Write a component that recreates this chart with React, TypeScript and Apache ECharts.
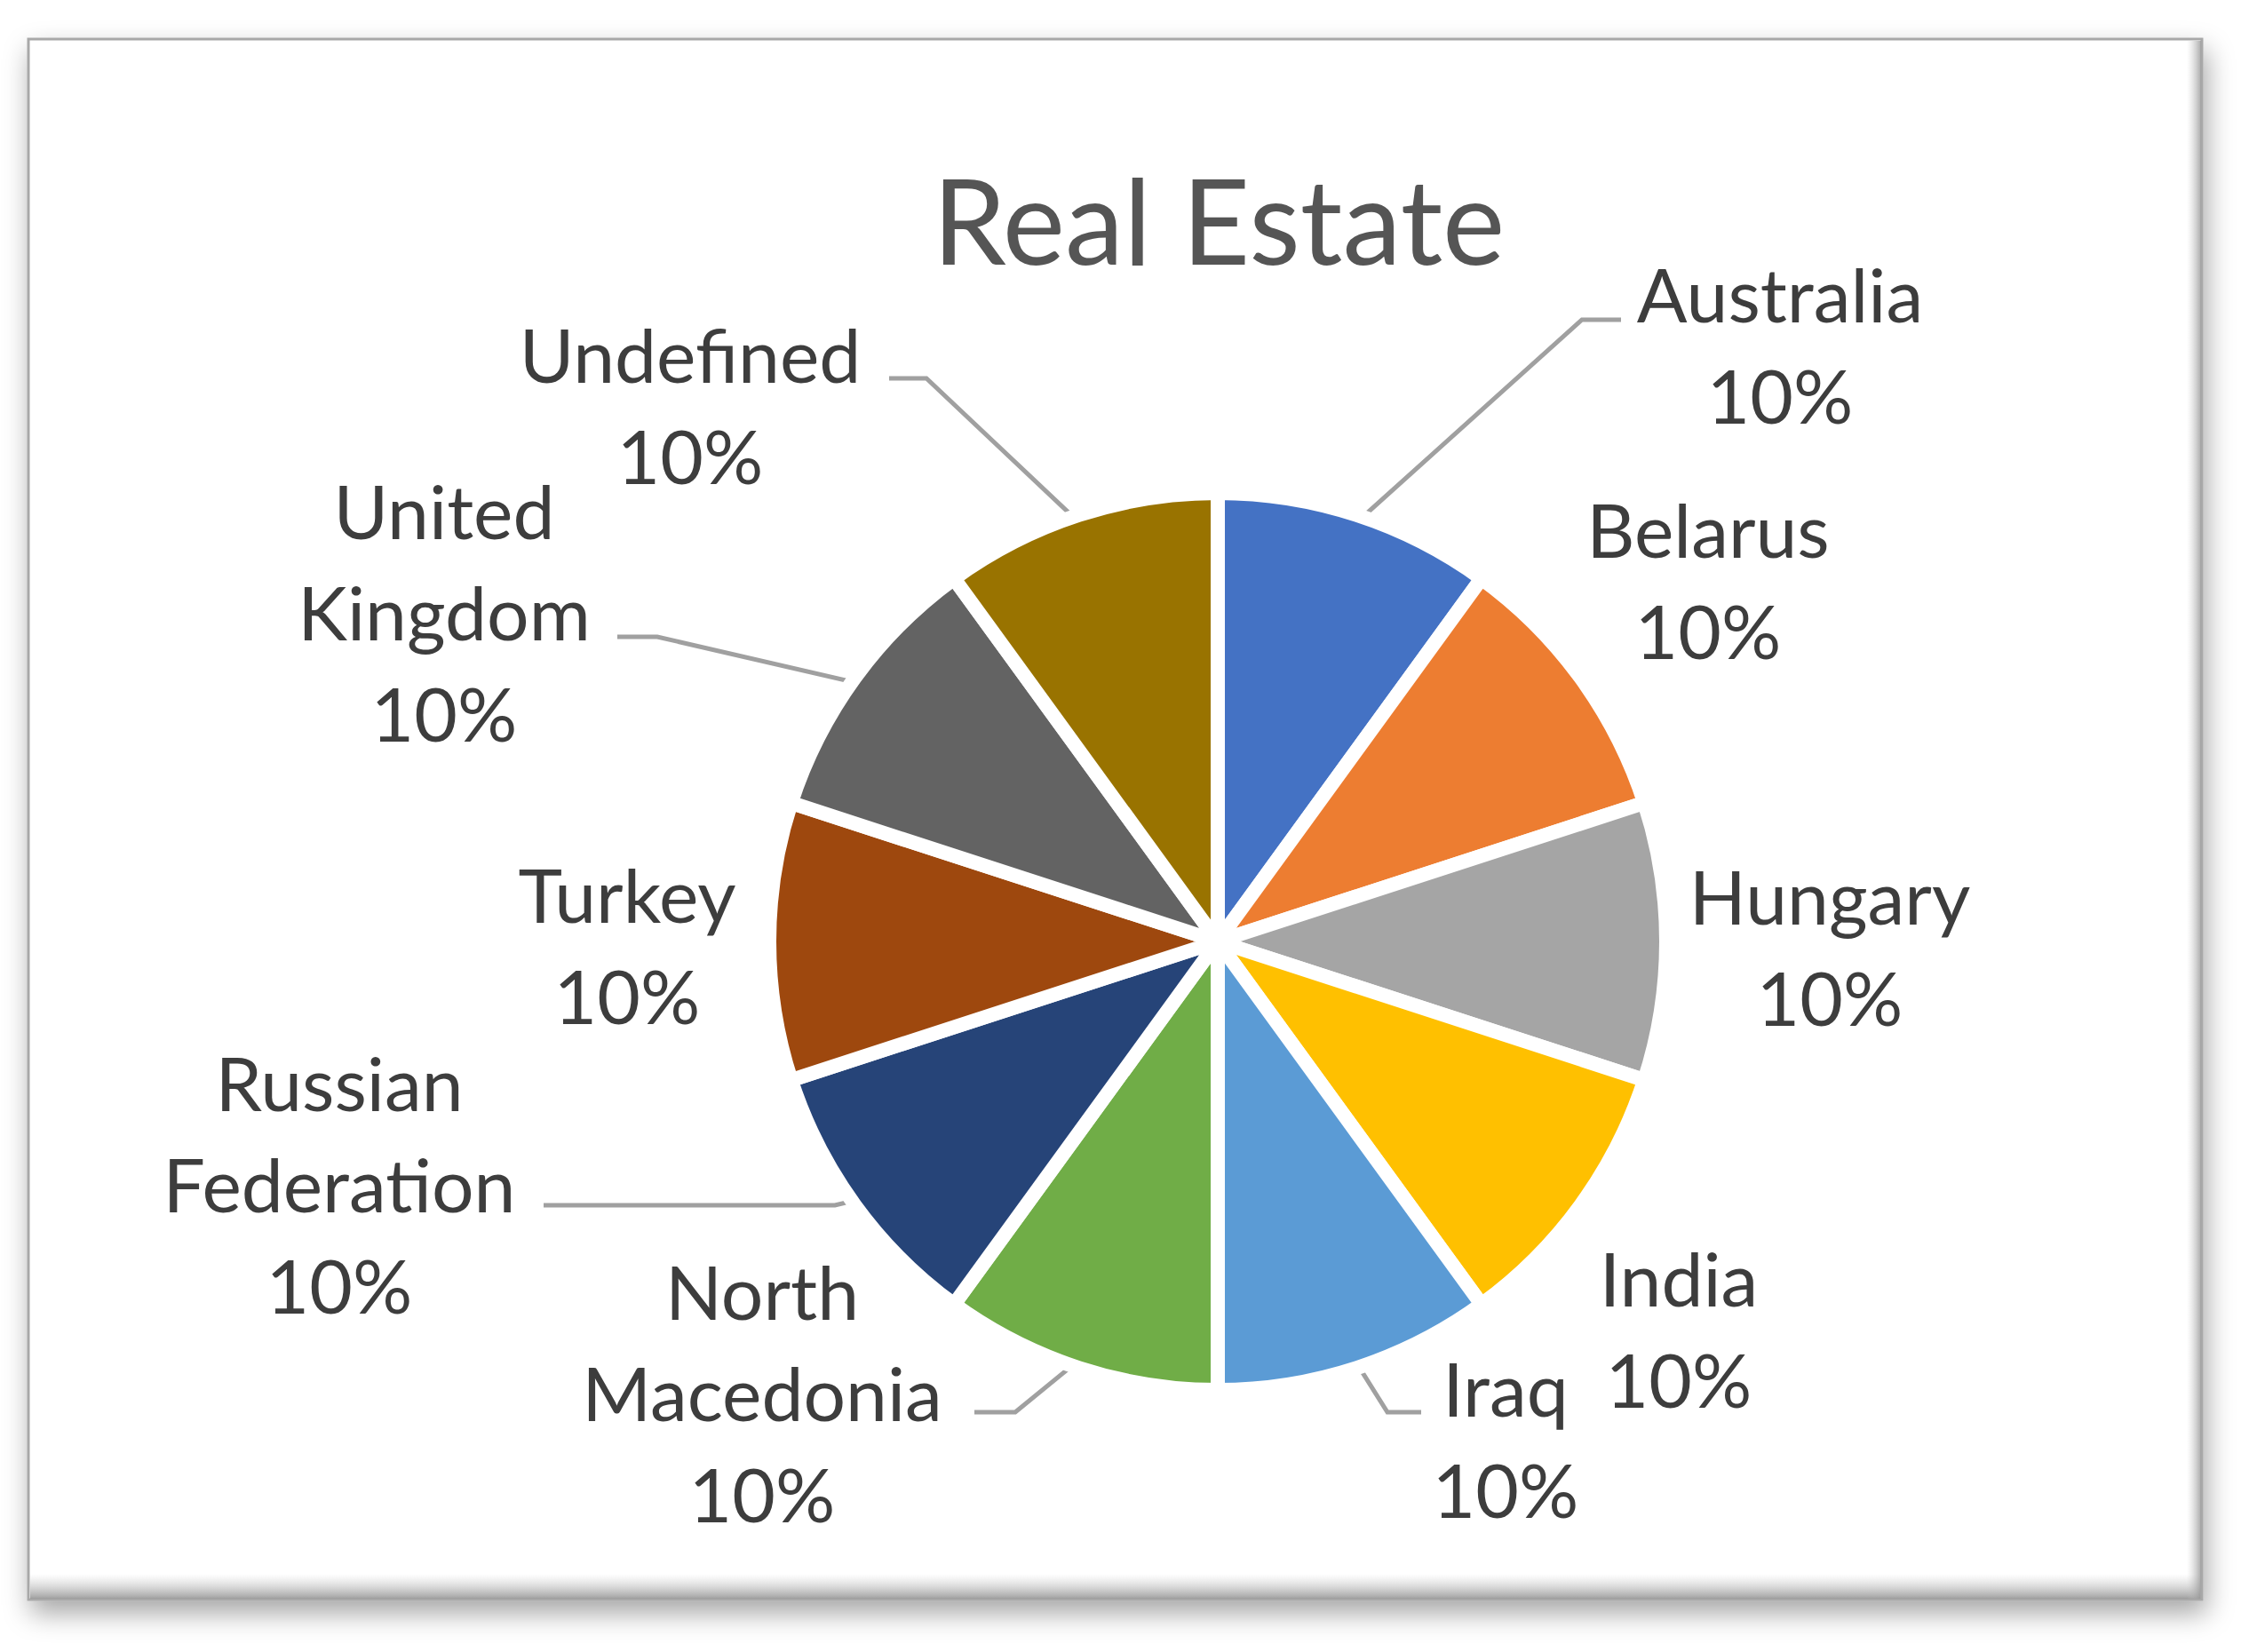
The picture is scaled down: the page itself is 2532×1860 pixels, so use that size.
import React, { useEffect, useRef } from "react";
import * as echarts from "echarts";

const categories = [
  "Australia",
  "Belarus",
  "Hungary",
  "India",
  "Iraq",
  "North Macedonia",
  "Russian Federation",
  "Turkey",
  "United Kingdom",
  "Undefined",
];
const values = [1, 1, 1, 1, 1, 1, 1, 1, 1, 1];
const colors = [
  "#4472C4",
  "#ED7D31",
  "#A5A5A5",
  "#FFC000",
  "#5B9BD5",
  "#70AD47",
  "#264478",
  "#9E480E",
  "#636363",
  "#997300",
];

// label block centres (layout only)
const labelCenters: number[][] = [
  [2004, 387],
  [1923, 652],
  [2060, 1065],
  [1890, 1495],
  [1695, 1619],
  [858, 1567],
  [382, 1332],
  [706, 1063],
  [500, 688],
  [777, 455],
];
// leader line bend/end points (after the slice-edge start point)
const leaderLines: (number[][] | null)[] = [
  [[1781, 360], [1825, 360]],
  null,
  null,
  null,
  [[1562, 1590], [1600, 1590]],
  [[1143, 1590], [1097, 1590]],
  [[940, 1357], [612, 1357]],
  null,
  [[740, 717], [695, 717]],
  [[1043, 426], [1001, 426]],
];

const CX = 1371;
const CY = 1060;
const R = 505;

export default function App() {
  const ref = useRef<HTMLDivElement>(null);
  useEffect(() => {
    document.body.style.margin = "0";
    const chart = echarts.init(ref.current!, null, { renderer: "svg" });
    const option: any = {
      animation: false,
      backgroundColor: "#ffffff",
      title: {
        text: "Real Estate",
        left: 1372,
        top: 180,
        textAlign: "center",
        padding: 0,
        textStyle: {
          fontFamily: "Lato",
          fontSize: 133,
          fontWeight: "normal",
          color: "#555555",
          lineHeight: 133,
        },
      },
      graphic: [
        {
          type: "rect",
          z: -10,
          shape: { x: 32, y: 44, width: 2447, height: 1757 },
          style: {
            fill: "#ffffff",
            stroke: "#a8a8a8",
            lineWidth: 3,
            shadowBlur: 30,
            shadowOffsetX: 4,
            shadowOffsetY: 14,
            shadowColor: "rgba(0,0,0,0.35)",
          },
        },
        {
          type: "rect",
          z: -9,
          shape: { x: 34, y: 1772, width: 2443, height: 28 },
          style: {
            fill: new echarts.graphic.LinearGradient(0, 0, 0, 1, [
              { offset: 0, color: "rgba(200,200,200,0)" },
              { offset: 1, color: "rgba(150,150,150,0.9)" },
            ]),
          },
        },
        {
          type: "rect",
          z: -9,
          shape: { x: 2462, y: 46, width: 16, height: 1754 },
          style: {
            fill: new echarts.graphic.LinearGradient(0, 0, 1, 0, [
              { offset: 0, color: "rgba(200,200,200,0)" },
              { offset: 1, color: "rgba(150,150,150,0.8)" },
            ]),
          },
        },
      ],
      series: [
        {
          type: "pie",
          center: [CX, CY],
          radius: R,
          startAngle: 90,
          clockwise: true,
          silent: true,
          avoidLabelOverlap: false,
          emphasis: { disabled: true },
          itemStyle: { borderColor: "#ffffff", borderWidth: 16 },
          label: {
            show: true,
            position: "outside",
            fontFamily: "Lato",
            fontSize: 84,
            lineHeight: 114,
            color: "#3d3d3d",
            align: "center",
            formatter: (p: any) =>
              p.name.replace(" ", "\n") + "\n" + Math.round(p.percent) + "%",
          },
          labelLine: {
            show: true,
            lineStyle: { color: "#a0a0a0", width: 5 },
          },
          labelLayout: (params: any) => {
            const i = params.dataIndex;
            const c = labelCenters[i];
            const out: any = {
              x: c[0],
              y: c[1],
              align: "center",
              verticalAlign: "middle",
              hideOverlap: false,
            };
            const extra = leaderLines[i];
            if (extra && params.labelLinePoints) {
              const p0 = params.labelLinePoints[0];
              const k = 492 / R;
              const s = [CX + (p0[0] - CX) * k, CY + (p0[1] - CY) * k];
              out.labelLinePoints = [s, ...extra];
            }
            return out;
          },
          data: categories.map((name, i) => ({
            name,
            value: values[i],
            itemStyle: { color: colors[i] },
            labelLine: { show: leaderLines[i] !== null },
          })),
        },
      ],
    };
    chart.setOption(option);
    return () => chart.dispose();
  }, []);
  return (
    <div
      ref={ref}
      style={{ position: "absolute", left: 0, top: 0, width: 2532, height: 1860 }}
    />
  );
}
